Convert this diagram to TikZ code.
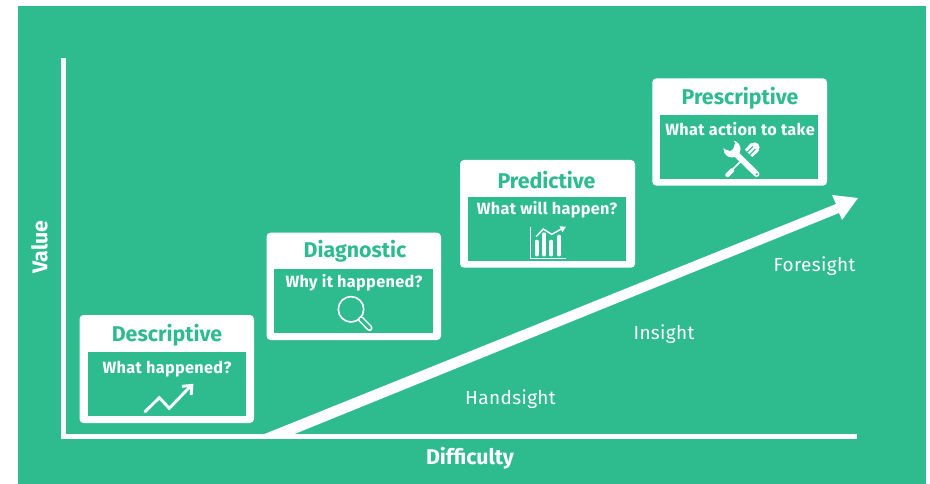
\documentclass[tikz,border=0pt]{standalone}
\usepackage{fontspec}
\setmainfont{Fira Sans}
\definecolor{brandgreen}{HTML}{2EBB8D}
\tikzset{
  x=0.75pt,y=-0.75pt,
  outerbox/.style={fill=white,rounded corners=3pt},
  innerbox/.style={fill=brandgreen},
  titletext/.style={text=brandgreen,font=\fontsize{16}{18}\selectfont\bfseries,inner sep=0pt},
  questiontext/.style={text=white,font=\fontsize{12.2}{14}\selectfont\bfseries\addfontfeature{LetterSpace=2},inner sep=0pt},
  sighttext/.style={text=white,font=\fontsize{14.2}{16}\selectfont\addfontfeature{LetterSpace=2},inner sep=0pt},
  axistext/.style={text=white,font=\fontsize{16}{18}\selectfont\bfseries,inner sep=0pt},
  axisline/.style={draw=white,line width=3.5pt},
  iconline/.style={draw=white,line width=2.2pt,line cap=round,line join=miter},
  thinline/.style={draw=white,line width=1pt},
}
\begin{document}
\begin{tikzpicture}
\useasboundingbox (0,0) rectangle (930,484);
\fill[white] (0,0) rectangle (930,484);
\fill[brandgreen] (18,6) rectangle (926,484);
% axes
\coordinate (axtop) at (63.3,58);
\coordinate (axcorner) at (63.3,436.3);
\coordinate (axright) at (857,436.3);
\draw[axisline] (axtop) -- (axcorner) -- (axright);
% rising arrow
\fill[white] (262,435) -- (836,204) -- (832,195) -- (858,198) -- (842,220) -- (839,213) -- (292,435) -- cycle;
% Descriptive
\fill[outerbox] (79.5,315) rectangle (254,423);
\fill[innerbox] (87.5,352) rectangle (245.5,415.7);
\node[titletext] (t1) at (167,335.5) {Descriptive};
\node[questiontext] (q1) at (167,369) {What happened?};
\draw[iconline] (145,411.7) -- (159.3,397.7) -- (169.3,408.3) -- (190.7,386);
\draw[iconline,line cap=butt] (182,386.3) -- (191.8,385.4) -- (191.2,395);
% Diagnostic
\fill[outerbox] (266.5,232.7) rectangle (441,340);
\fill[innerbox] (274.3,269.3) rectangle (432.7,333.3);
\node[titletext] (t2) at (355,251.5) {Diagnostic};
\node[questiontext] (q2) at (354,283) {Why it happened?};
\draw[white,line width=1.2pt] (351,309.3) circle (12.7);
\draw[white,line width=4.6pt,line cap=round] (361,319.3) -- (369.5,328);
\draw[brandgreen,line width=2.4pt,line cap=round] (361,319.3) -- (369.5,328);
% Predictive
\fill[outerbox] (460,160) rectangle (635,267.7);
\fill[innerbox] (468.3,197.3) rectangle (626.3,260.7);
\node[titletext] (t3) at (546.5,180) {Predictive};
\node[questiontext] (q3) at (547,209.5) {What will happen?};
\draw[thinline] (530.3,226.7) -- (530.3,258.3) -- (565.7,258.3);
\foreach \bx/\by in {536.7/241.7,544/234.3,551.3/241.7,559.3/236.7}
  \draw[white,line width=3pt,line cap=round] (\bx,\by) -- (\bx,254.5);
\draw[white,line width=1.1pt] (536,236.7) -- (543.3,229) -- (551.7,234.3) -- (563,228.2);
\fill[white] (566,226.7) -- (559.5,226.3) -- (562.5,232) -- cycle;
% Prescriptive
\fill[outerbox] (652.3,78.3) rectangle (827,185.7);
\fill[innerbox] (660.3,115) rectangle (818.3,179);
\node[titletext] (t4) at (740,98.5) {Prescriptive};
\node[questiontext] (q4) at (740,129) {What action to take};
% wrench
\draw[white,line width=4.4pt,line cap=round] (735,153) -- (756.5,174);
\fill[brandgreen] (756.8,174.2) circle (1.2);
\fill[white] (732,149) circle (8.5);
\fill[brandgreen] (735,143) -- (733,149) -- (730,151) -- (724.5,149) -- (722,140) -- (730,135) -- cycle;
% screwdriver
\draw[white,line width=7.5pt,line cap=butt] (748.7,153.3) -- (752,150);
\fill[white] (754.6,147.4) circle (5);
\fill[white] (745,149.5) -- (752.4,157) -- (759,150.6) -- (751,143) -- cycle;
\draw[brandgreen,line width=0.8pt] (747.4,152) -- (752.9,146.5);
\draw[brandgreen,line width=0.8pt] (750,154.6) -- (755.5,149.1);
\draw[white,line width=1.3pt] (740,162) -- (733,169);
\draw[white,line width=3.4pt,line cap=round] (732,170.5) -- (727.5,175);
% sight labels
\node[sighttext] (hand) at (510.5,399) {Handsight};
\node[sighttext] (ins) at (664,334) {Insight};
\node[sighttext] (fore) at (814.5,266) {Foresight};
% axis labels
\node[axistext] (diff) at (470,458.5) {Difficulty};
\node[axistext,rotate=90] (val) at (39.5,247) {Value};
\end{tikzpicture}
\end{document}
